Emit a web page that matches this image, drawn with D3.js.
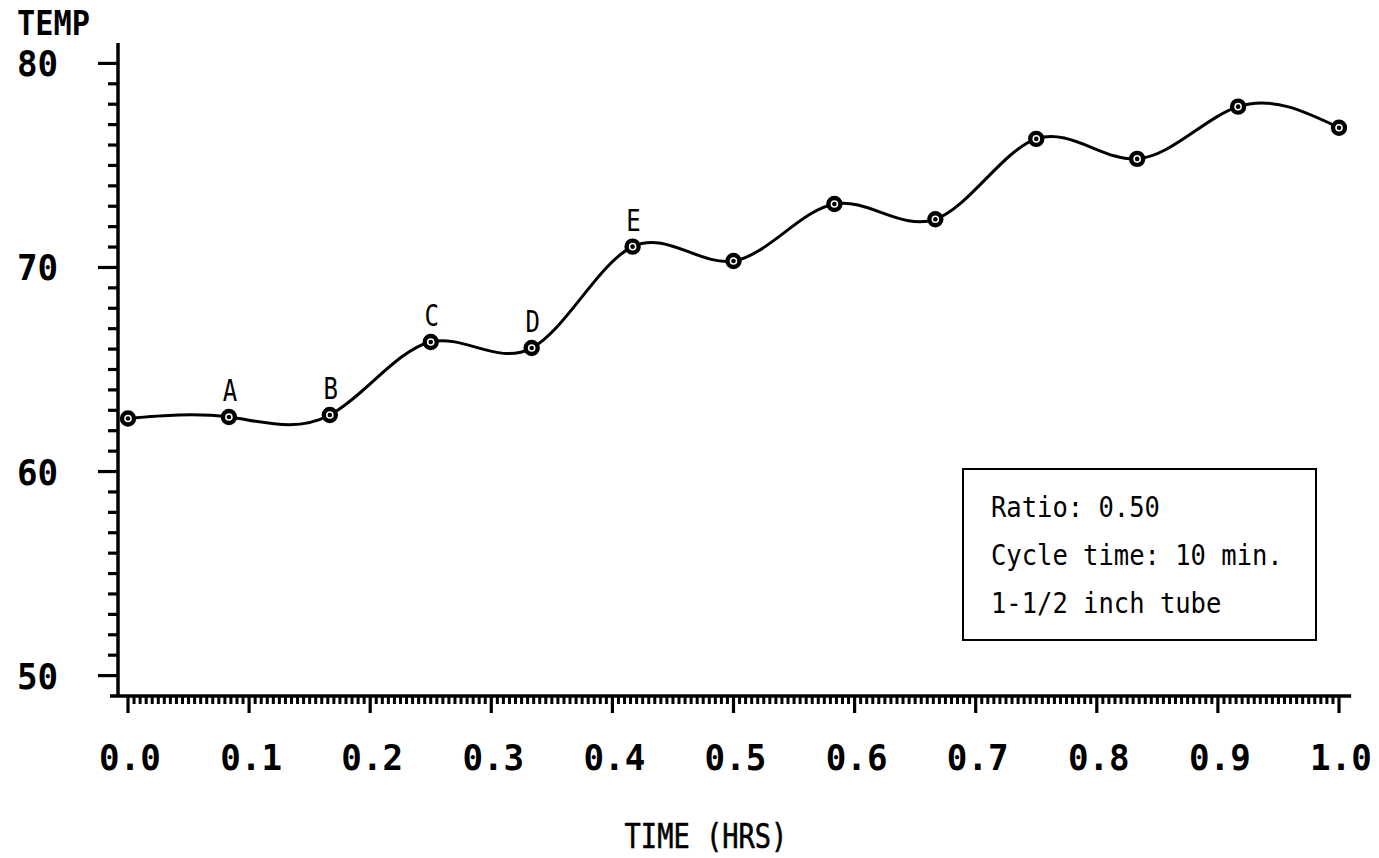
<!DOCTYPE html>
<html>
<head>
<meta charset="utf-8">
<script src="https://cdn.jsdelivr.net/npm/d3@7"></script>
<style>
  html, body { margin: 0; padding: 0; background: #fff; }
  svg { display: block; }
</style>
</head>
<body>
<svg id="chart" width="1379" height="858"></svg>
<script>
// Temperature readings every 5 minutes over one hour
const timeHrs = [0, 1/12, 2/12, 3/12, 4/12, 5/12, 6/12, 7/12, 8/12, 9/12, 10/12, 11/12, 1];
const temps   = [62.6, 62.67, 62.77, 66.35, 66.05, 71.02, 70.32, 73.11, 72.36, 76.3, 75.32, 77.88, 76.85];
const pointLabels = ["", "A", "B", "C", "D", "E", "", "", "", "", "", "", ""];

const xMajorTicks = [0, 0.1, 0.2, 0.3, 0.4, 0.5, 0.6, 0.7, 0.8, 0.9, 1.0];
const xTickLabels = ["0.0", "0.1", "0.2", "0.3", "0.4", "0.5", "0.6", "0.7", "0.8", "0.9", "1.0"];
const yMajorTicks = [50, 60, 70, 80];
const yTickLabels = ["50", "60", "70", "80"];
const noteLines = ["Ratio: 0.50", "Cycle time: 10 min.", "1-1/2 inch tube"];

const svg = d3.select("#chart");
const mono = "'DejaVu Sans Mono', 'Liberation Mono', monospace";

const x = d3.scaleLinear().domain([0, 1]).range([128, 1339]);
const y = d3.scaleLinear().domain([49, 81]).range([696, 43]);

const axisX = 118;     // horizontal position of the vertical axis
const axisY = y(49);   // vertical position of the horizontal axis

// helper for horizontally condensed text
function label(g, tx, ty, str, size, sx, anchor, weight) {
  return g.append("text")
    .attr("transform", `translate(${tx},${ty}) scale(${sx},1)`)
    .attr("text-anchor", anchor || "start")
    .style("font-family", mono)
    .style("font-size", size + "px")
    .style("font-weight", weight || "normal")
    .attr("fill", "#000")
    .text(str);
}

// ---- Y axis ----
const gy = svg.append("g");
gy.append("line")
  .attr("x1", axisX).attr("x2", axisX)
  .attr("y1", y(81)).attr("y2", axisY + 1)
  .attr("stroke", "#000").attr("stroke-width", 3.5);
gy.selectAll("line.minor")
  .data(d3.range(50, 81).filter(v => v % 10 !== 0))
  .join("line")
  .attr("class", "minor")
  .attr("x1", axisX - 10).attr("x2", axisX)
  .attr("y1", d => y(d)).attr("y2", d => y(d))
  .attr("stroke", "#000").attr("stroke-width", 3.2);
gy.selectAll("line.major")
  .data(yMajorTicks)
  .join("line")
  .attr("class", "major")
  .attr("x1", axisX - 20).attr("x2", axisX)
  .attr("y1", d => y(d)).attr("y2", d => y(d))
  .attr("stroke", "#000").attr("stroke-width", 3.2);
yMajorTicks.forEach((v, i) => {
  label(gy, 17, y(v) + 13, yTickLabels[i], 36, 0.95, "start", "bold");
});
label(gy, 17, 35, "TEMP", 33, 0.92, "start", "bold");

// ---- X axis ----
const gx = svg.append("g");
gx.append("line")
  .attr("x1", 110).attr("x2", x(1.01))
  .attr("y1", axisY).attr("y2", axisY)
  .attr("stroke", "#000").attr("stroke-width", 3.5);
const minorX = d3.range(0, 201).map(i => i / 200).filter((v, i) => i % 20 !== 0);
gx.selectAll("line.minor")
  .data(minorX)
  .join("line")
  .attr("class", "minor")
  .attr("x1", d => x(d)).attr("x2", d => x(d))
  .attr("y1", axisY).attr("y2", axisY + 8)
  .attr("stroke", "#000").attr("stroke-width", 3);
gx.selectAll("line.major")
  .data(xMajorTicks)
  .join("line")
  .attr("class", "major")
  .attr("x1", d => x(d)).attr("x2", d => x(d))
  .attr("y1", axisY).attr("y2", axisY + 17)
  .attr("stroke", "#000").attr("stroke-width", 3.2);
xMajorTicks.forEach((v, i) => {
  label(gx, x(v) + 2, 770, xTickLabels[i], 36, 0.95, "middle", "bold");
});
label(gx, 706, 848, "TIME (HRS)", 33, 0.82, "middle", "normal")
  .style("stroke", "#000").style("stroke-width", 0.6);

// ---- Curve ----
const pts = timeHrs.map((t, i) => [t, temps[i]]);
const line = d3.line()
  .x(d => x(d[0]))
  .y(d => y(d[1]))
  .curve(d3.curveNatural);
svg.append("path")
  .datum(pts)
  .attr("d", line)
  .attr("fill", "none")
  .attr("stroke", "#000")
  .attr("stroke-width", 3);

// ---- Markers ----
const gm = svg.append("g");
gm.selectAll("circle.outer")
  .data(pts)
  .join("circle")
  .attr("class", "outer")
  .attr("cx", d => x(d[0])).attr("cy", d => y(d[1]))
  .attr("r", 6)
  .attr("fill", "#fff")
  .attr("stroke", "#000").attr("stroke-width", 4.4);
gm.selectAll("circle.inner")
  .data(pts)
  .join("circle")
  .attr("class", "inner")
  .attr("cx", d => x(d[0])).attr("cy", d => y(d[1]))
  .attr("r", 2.3)
  .attr("fill", "#000");

// ---- Point letters ----
const gl = svg.append("g");
pts.forEach((d, i) => {
  if (!pointLabels[i]) return;
  label(gl, x(d[0]) + 1, y(d[1]) - 16, pointLabels[i], 30, 0.8, "middle", "normal");
});

// ---- Note box ----
const gb = svg.append("g");
gb.append("rect")
  .attr("x", 963).attr("y", 469)
  .attr("width", 353).attr("height", 171)
  .attr("fill", "none")
  .attr("stroke", "#000").attr("stroke-width", 2);
noteLines.forEach((s, i) => {
  label(gb, 991, 517 + i * 48, s, 29, 0.88, "start", "normal");
});
</script>
</body>
</html>
